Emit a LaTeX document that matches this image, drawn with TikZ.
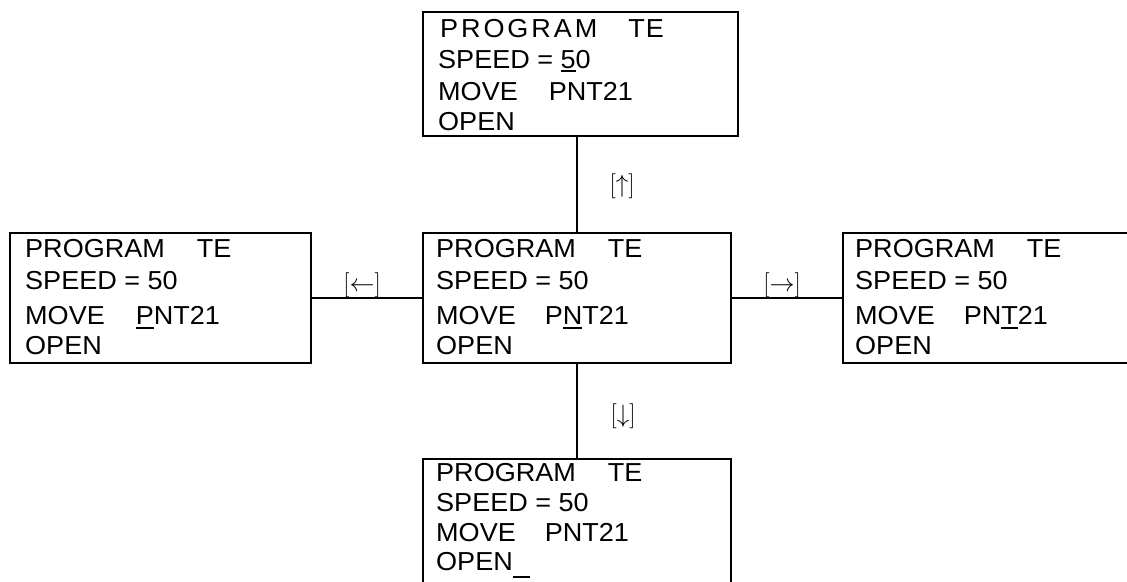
\RequirePackage{fix-cm}
\documentclass[tikz,border=0pt]{standalone}
\usepackage{fontspec}
\setmainfont{Liberation Sans}[FakeStretch=1.04]
\newcommand\curs[2][-5]{\setbox0\hbox{#2}\rlap{\rule[#1pt]{\wd0}{2pt}}\box0\relax}
\newcommand\gap[1]{\hspace*{#1pt}}
\begin{document}
\begin{tikzpicture}[x=1pt,y=-1pt,
  panel/.style={draw, line width=2pt, rectangle, anchor=north west, inner sep=0pt},
  txt/.style={anchor=base west, inner sep=0pt, font=\fontsize{26}{30}\selectfont},
  key/.style={anchor=center, inner sep=0pt, font=\fontsize{25}{30}\selectfont},
  wire/.style={line width=2pt}]
\clip (0,0) rectangle (1127,581);
% boxes
\node[panel, minimum width=315pt, minimum height=124pt] (T) at (422,11) {};
\node[panel, minimum width=308pt, minimum height=130pt] (C) at (422,232) {};
\node[panel, minimum width=301pt, minimum height=130pt] (L) at (9,232) {};
\node[panel, minimum width=310pt, minimum height=130pt] (R) at (842,232) {};
\node[panel, minimum width=308pt, minimum height=140pt] (B) at (422,458) {};
% connectors
\draw[wire] (C.north) -- (C.north |- T.south);
\draw[wire] (C.south) -- (C.south |- B.north);
\draw[wire] (L.east) -- (C.west);
\draw[wire] (C.east) -- (R.west);
% key labels
\node[key] (ku) at (622,186) {$[\uparrow]$};
\node[key] (kd) at (623,416) {$[\downarrow]$};
\node[key] (kl) at (362,285) {$[\leftarrow]$};
\node[key] (kr) at (782,285) {$[\rightarrow]$};
% top box text
\node[txt] (t1) at (440,37) {P\kern2.9pt R\kern2.9pt O\kern2.9pt G\kern2.9pt R\kern2.9pt A\kern2.9pt M\gap{31}T\kern1pt E};
\node[txt] (t2) at (438,68) {SPEED = \curs[-4]{5}0};
\node[txt] (t3) at (438,100) {MOVE\gap{31}PNT21};
\node[txt] (t4) at (438,130) {OPEN};
% center box text
\node[txt] (c1) at (436,257) {PROGRAM\gap{32}TE};
\node[txt] (c2) at (436,289) {SPEED = 50};
\node[txt] (c3) at (436,324) {MOVE\gap{29}P\curs{N}T21};
\node[txt] (c4) at (436,354) {OPEN};
% left box text
\node[txt] (l1) at (25,257) {PROGRAM\gap{32}TE};
\node[txt] (l2) at (25,289) {SPEED = 50};
\node[txt] (l3) at (25,324) {MOVE\gap{31}\curs{P}NT21};
\node[txt] (l4) at (25,354) {OPEN};
% right box text
\node[txt] (r1) at (855,257) {PROGRAM\gap{32}TE};
\node[txt] (r2) at (855,289) {SPEED = 50};
\node[txt] (r3) at (855,324) {MOVE\gap{29}PN\curs{T}21};
\node[txt] (r4) at (855,354) {OPEN};
% bottom box text
\node[txt] (b1) at (436,481) {PROGRAM\gap{32}TE};
\node[txt] (b2) at (436,511) {SPEED = 50};
\node[txt] (b3) at (436,541) {MOVE\gap{29}PNT21};
\node[txt] (b4) at (436,570) {OPEN\rule[-8pt]{17pt}{2pt}};
\end{tikzpicture}
\end{document}
